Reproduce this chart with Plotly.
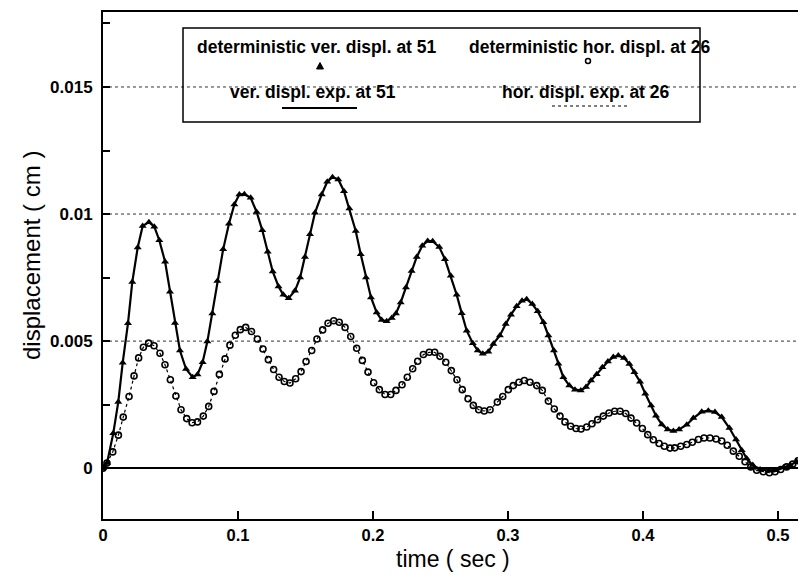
import plotly.graph_objects as go

# Time samples (sec) and vertical displacement at node 51 (cm)
t_ver = [0.0, 0.003, 0.0076, 0.0113, 0.0146, 0.0185, 0.0217, 0.0257, 0.0294, 0.034,
         0.038, 0.0417, 0.046, 0.0496, 0.0533, 0.057, 0.0615, 0.0664, 0.070, 0.0738,
         0.0773, 0.081, 0.0847, 0.089, 0.0933, 0.0973, 0.101, 0.1047, 0.1094, 0.1138,
         0.118, 0.122, 0.1257, 0.130, 0.1336, 0.1375, 0.1422, 0.146, 0.1496, 0.1533,
         0.157, 0.162, 0.1661, 0.170, 0.1743, 0.1785, 0.1825, 0.1872, 0.1909, 0.1948,
         0.1985, 0.2027, 0.2064, 0.2101, 0.2139, 0.217, 0.2205, 0.2244, 0.2286, 0.2324,
         0.2365, 0.2405, 0.2442, 0.2491, 0.2533, 0.2576, 0.262, 0.2657, 0.2694, 0.2739,
         0.2776, 0.2813, 0.2854, 0.2891, 0.294, 0.2983, 0.3022, 0.3064, 0.3104, 0.3138,
         0.318, 0.322, 0.3262, 0.3299, 0.334, 0.3373, 0.341, 0.3454, 0.3496, 0.3539,
         0.3578, 0.3615, 0.3657, 0.3699, 0.374, 0.378, 0.3817, 0.3859, 0.3899, 0.3936,
         0.3978, 0.4017, 0.406, 0.4096, 0.4139, 0.4183, 0.4225, 0.4267, 0.4324, 0.4373,
         0.4435, 0.4484, 0.4533, 0.4583, 0.464, 0.4689, 0.4731, 0.4768, 0.4813, 0.4867,
         0.4928, 0.4985, 0.504, 0.5089, 0.5138]
ver_disp = [0.0, 0.0002, 0.00137, 0.0026, 0.00415, 0.0057, 0.00733, 0.00868, 0.00953, 0.00968,
            0.0095, 0.00897, 0.00812, 0.00694, 0.00571, 0.00463, 0.0039, 0.00358, 0.00369, 0.00417,
            0.00498, 0.00609, 0.00737, 0.00861, 0.00962, 0.01038, 0.01077, 0.01078, 0.01064, 0.01008,
            0.00936, 0.00852, 0.00774, 0.00715, 0.00682, 0.00669, 0.00698, 0.0075, 0.00831, 0.0092,
            0.01005, 0.01077, 0.01127, 0.01145, 0.01136, 0.0109, 0.01022, 0.00933, 0.00842, 0.0075,
            0.00672, 0.00613, 0.00583, 0.00578, 0.00591, 0.00609, 0.00652, 0.00711, 0.00776, 0.00831,
            0.00875, 0.00894, 0.00893, 0.0087, 0.00822, 0.00757, 0.00682, 0.0061, 0.00541, 0.00492,
            0.00463, 0.0045, 0.00458, 0.00489, 0.00522, 0.00567, 0.00604, 0.00637, 0.00659, 0.00665,
            0.00646, 0.00617, 0.00574, 0.00522, 0.00463, 0.00411, 0.00358, 0.00325, 0.00309, 0.00306,
            0.00319, 0.00345, 0.0037, 0.00397, 0.0042, 0.00437, 0.00443, 0.00434, 0.0041, 0.00377,
            0.0034, 0.00293, 0.00247, 0.00206, 0.00172, 0.00152, 0.00146, 0.00152, 0.00171, 0.00197,
            0.00222, 0.00226, 0.00221, 0.00201, 0.00158, 0.00113, 0.00071, 0.00038, 0.00012, -0.00005,
            -0.0001, -0.00008, 0.00003, 0.00012, 0.00025]

# Time samples (sec) and horizontal displacement at node 26 (cm)
t_hor = [0.0, 0.0029, 0.0072, 0.0114, 0.015, 0.0193, 0.023, 0.0264, 0.0299, 0.0338,
         0.0378, 0.0422, 0.0459, 0.0499, 0.054, 0.0578, 0.062, 0.066, 0.070, 0.0743,
         0.0783, 0.0822, 0.0862, 0.0904, 0.094, 0.098, 0.1017, 0.1057, 0.110, 0.1143,
         0.1185, 0.1225, 0.1264, 0.1304, 0.1343, 0.1385, 0.1427, 0.1467, 0.1504, 0.1546,
         0.1585, 0.1627, 0.1667, 0.1709, 0.175, 0.1793, 0.1835, 0.1879, 0.1921, 0.1963,
         0.2005, 0.2047, 0.2089, 0.2131, 0.217, 0.2215, 0.2254, 0.2294, 0.2331, 0.2373,
         0.2417, 0.2457, 0.2496, 0.2539, 0.258, 0.2622, 0.2661, 0.2704, 0.2743, 0.2783,
         0.2824, 0.2867, 0.2921, 0.2961, 0.3002, 0.3039, 0.3081, 0.3121, 0.3163, 0.3213,
         0.3254, 0.3299, 0.3343, 0.3385, 0.3422, 0.3464, 0.3504, 0.3541, 0.3583, 0.3622,
         0.3664, 0.3706, 0.3748, 0.379, 0.383, 0.3872, 0.3911, 0.3953, 0.3995, 0.4035,
         0.4076, 0.4119, 0.4158, 0.42, 0.4235, 0.4279, 0.4324, 0.4365, 0.441, 0.4452,
         0.4496, 0.4541, 0.4583, 0.4624, 0.4669, 0.4713, 0.4756, 0.4798, 0.4842, 0.4891,
         0.4936, 0.4978, 0.502, 0.5064, 0.5109, 0.5148]
hor_disp = [0.0, 0.0002, 0.00064, 0.0013, 0.00201, 0.00282, 0.00363, 0.00434, 0.00476, 0.00492,
            0.00482, 0.00452, 0.00407, 0.00348, 0.00284, 0.0023, 0.00195, 0.00179, 0.00182, 0.00205,
            0.00243, 0.00302, 0.00369, 0.0043, 0.00484, 0.00523, 0.00545, 0.00554, 0.00538, 0.00508,
            0.00469, 0.00427, 0.00388, 0.00358, 0.00341, 0.00335, 0.00352, 0.0038, 0.0042, 0.00463,
            0.00508, 0.00544, 0.0057, 0.0058, 0.00574, 0.00554, 0.00518, 0.00472, 0.00424, 0.00378,
            0.00336, 0.00309, 0.0029, 0.0029, 0.00306, 0.00328, 0.00358, 0.00391, 0.00421, 0.00447,
            0.00456, 0.00456, 0.0044, 0.00417, 0.00384, 0.00348, 0.00309, 0.00273, 0.00247, 0.0023,
            0.00225, 0.0023, 0.0026, 0.00282, 0.00309, 0.00325, 0.00338, 0.00345, 0.00338, 0.00325,
            0.00306, 0.00264, 0.00233, 0.00205, 0.00182, 0.00165, 0.00156, 0.00154, 0.00162, 0.00175,
            0.00191, 0.00205, 0.00217, 0.00224, 0.00224, 0.00215, 0.00197, 0.00178, 0.00156, 0.00132,
            0.00112, 0.00097, 0.00086, 0.00079, 0.0008, 0.00086, 0.00093, 0.00102, 0.00113, 0.00119,
            0.00119, 0.00115, 0.00107, 0.0009, 0.00067, 0.00047, 0.00025, 0.00005, -0.00008, -0.00014,
            -0.00018, -0.00014, -0.00005, 0.00005, 0.00016, 0.00029]

x_ticks = [0, 0.1, 0.2, 0.3, 0.4, 0.5]
x_tick_text = ["0", "0.1", "0.2", "0.3", "0.4", "0.5"]
y_ticks = [0, 0.0025, 0.005, 0.0075, 0.01, 0.0125, 0.015, 0.0175]
y_tick_text = ["0", "", "0.005", "", "0.01", "", "0.015", ""]
grid_levels = [0.005, 0.01, 0.015]

legend_labels = ["deterministic ver. displ. at 51", "deterministic hor. displ. at 26",
                 "ver. displ. exp. at 51", "hor. displ. exp. at 26"]

W, H = 798, 576
ML, MR, MT, MB = 103, 0, 12, 57
PW, PH = W - ML - MR, H - MT - MB

def px(x):
    return (x - ML) / PW

def py(y):
    return (H - MB - y) / PH

FONT = "Liberation Sans, Arial, sans-serif"

fig = go.Figure()

# experimental curves
fig.add_trace(go.Scatter(x=t_ver, y=ver_disp, mode="lines",
                         line=dict(color="black", width=2.2), showlegend=False))
fig.add_trace(go.Scatter(x=t_hor, y=hor_disp, mode="lines",
                         line=dict(color="black", width=1.2, dash="dot"), showlegend=False))
# deterministic solution markers
fig.add_trace(go.Scatter(x=t_ver, y=ver_disp, mode="markers",
                         marker=dict(symbol="triangle-up", size=7, color="black"),
                         showlegend=False))
fig.add_trace(go.Scatter(x=t_hor, y=hor_disp, mode="markers",
                         marker=dict(symbol="circle-open", size=6, color="black",
                                     line=dict(width=1.6, color="black")),
                         showlegend=False))

shapes = []
for g in grid_levels:
    shapes.append(dict(type="line", xref="paper", yref="y", x0=0, x1=1, y0=g, y1=g,
                       line=dict(color="#333", width=1, dash="dot"), layer="below"))

# legend frame and samples
shapes.append(dict(type="rect", xref="paper", yref="paper",
                   x0=px(183), x1=px(700), y0=py(28), y1=py(122),
                   line=dict(color="black", width=1.5)))
shapes.append(dict(type="line", xref="paper", yref="paper",
                   x0=px(282), x1=px(357), y0=py(108), y1=py(108),
                   line=dict(color="black", width=2)))
shapes.append(dict(type="line", xref="paper", yref="paper",
                   x0=px(552), x1=px(630), y0=py(106), y1=py(106),
                   line=dict(color="black", width=1, dash="dot")))
shapes.append(dict(type="path", xref="paper", yref="paper",
                   xsizemode="pixel", ysizemode="pixel",
                   xanchor=px(320), yanchor=py(66),
                   path="M -3.5 -3 L 3.5 -3 L 0 3.5 Z",
                   fillcolor="black", line=dict(color="black", width=1)))
shapes.append(dict(type="circle", xref="paper", yref="paper",
                   xsizemode="pixel", ysizemode="pixel",
                   xanchor=px(588), yanchor=py(61),
                   x0=-2.5, x1=2.5, y0=-2.5, y1=2.5,
                   line=dict(color="black", width=1.5)))

annotations = []
legend_pos = [(195, 47), (467, 47), (228, 92), (500, 92)]
for label, (lx, ly) in zip(legend_labels, legend_pos):
    annotations.append(dict(text=label, xref="paper", yref="paper", x=px(lx), y=py(ly),
                            xanchor="left", yanchor="middle", showarrow=False,
                            font=dict(family=FONT, size=17.5, color="black", weight="bold")))

annotations.append(dict(text="displacement ( cm )", xref="paper", yref="paper",
                        x=px(31), y=py(256), textangle=-90, showarrow=False,
                        xanchor="center", yanchor="middle",
                        font=dict(family=FONT, size=24, color="black")))
annotations.append(dict(text="time ( sec )", xref="paper", yref="paper",
                        x=px(453), y=py(559), showarrow=False,
                        xanchor="center", yanchor="middle",
                        font=dict(family=FONT, size=23, color="black")))

fig.update_layout(
    width=W, height=H,
    margin=dict(l=ML, r=MR, t=MT, b=MB, pad=0),
    paper_bgcolor="white", plot_bgcolor="white",
    showlegend=False,
    shapes=shapes, annotations=annotations,
    xaxis=dict(range=[0, 0.5148], tickvals=x_ticks, ticktext=x_tick_text,
               ticks="inside", ticklen=8, tickwidth=1.5, tickcolor="black",
               showline=True, linecolor="black", linewidth=2, mirror=True,
               showgrid=False, zeroline=False, ticklabelstandoff=0,
               tickfont=dict(family=FONT, size=16.5, color="black", weight="bold")),
    yaxis=dict(range=[-0.002, 0.01795], tickvals=y_ticks, ticktext=y_tick_text,
               ticks="inside", ticklen=7, tickwidth=1.5, tickcolor="black",
               showline=True, linecolor="black", linewidth=2,
               showgrid=False, zeroline=True, zerolinecolor="black", zerolinewidth=1.5,
               ticklabelstandoff=5,
               tickfont=dict(family=FONT, size=17, color="black", weight="bold")),
)

fig.write_html("out.html")
